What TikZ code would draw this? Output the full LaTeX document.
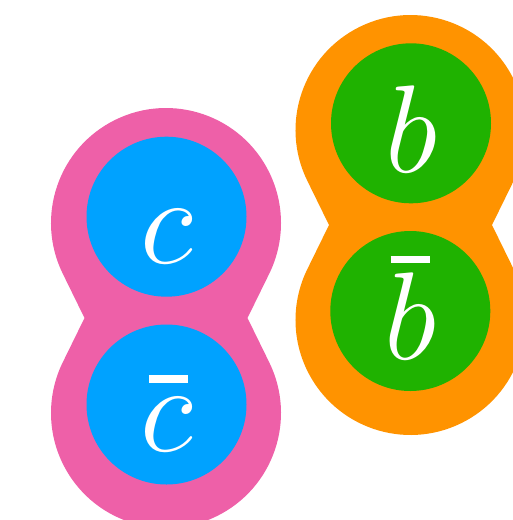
\documentclass[tikz,border=0pt]{standalone}
\usepackage{tikz}
\usepackage{xcolor}
\definecolor{MesonPink}{HTML}{EE60A8}
\definecolor{MesonOrange}{HTML}{FF9300}
\definecolor{QuarkBlue}{HTML}{00A2FF}
\definecolor{QuarkGreen}{HTML}{1FB200}
\newcommand{\barquark}[3]{\ooalign{$#1$\cr\hidewidth\kern#3\rule[#2]{7.8pt}{1.5pt}\hidewidth\cr}}
\tikzset{
  quark/.style={circle, inner sep=0pt, minimum size=160pt},
  flavour/.style={anchor=base, inner sep=0pt, text=white, font=\Huge, scale=5.02, transform shape},
}

\begin{document}
\begin{tikzpicture}[x=1pt, y=-1pt]
    \useasboundingbox (0,0) rectangle (513,520);
    \clip (0,0) rectangle (513,520);

    % Charmonium bag
    \begin{scope}[shift={(166,318)}]
        \fill[MesonPink] (-81.5,0) -- (-103.25,-44.37)
            arc[start angle=153.89, end angle=386.11, radius=115]
            -- (81.5,0) -- (103.25,44.37)
            arc[start angle=-26.11, end angle=206.11, radius=115] -- cycle;
    \end{scope}
    \node[quark, fill=QuarkBlue] (c) at (166.5,216.7) {};
    \node[quark, fill=QuarkBlue] (cbar) at (166.5,404.5) {};
    \node[flavour] (clabel) at ([yshift=-47pt]c.center) {$c$};
    \node[flavour] (cbarlabel) at ([yshift=-47pt]cbar.center) {\barquark{c}{13.7pt}{0.8pt}};

    % Bottomonium bag
    \begin{scope}[shift={(410.5,225)}]
        \fill[MesonOrange] (-81.5,0) -- (-103.25,-44.37)
            arc[start angle=153.89, end angle=386.11, radius=115]
            -- (81.5,0) -- (103.25,44.37)
            arc[start angle=-26.11, end angle=206.11, radius=115] -- cycle;
    \end{scope}
    \node[quark, fill=QuarkGreen] (b) at (411,123.3) {};
    \node[quark, fill=QuarkGreen] (bbar) at (410.3,311) {};
    \node[flavour] (blabel) at ([yshift=-49pt]b.center) {$b$};
    \node[flavour] (bbarlabel) at ([yshift=-48pt]bbar.center) {\barquark{b}{19.1pt}{0pt}};
\end{tikzpicture}
\end{document}
